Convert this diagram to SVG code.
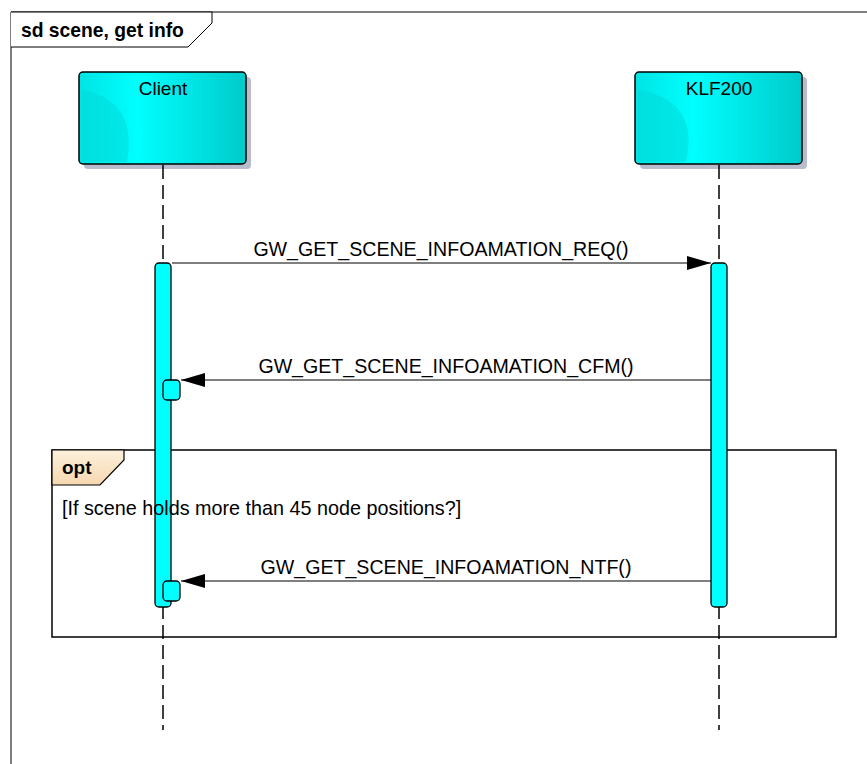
<svg xmlns="http://www.w3.org/2000/svg" width="867" height="764" viewBox="0 0 867 764">
<style>
text{font-family:"Liberation Sans",Arial,sans-serif;fill:#000}
.lbl{font-size:19px;text-anchor:middle}
.mlbl{font-size:19.6px;text-anchor:middle}
.life{stroke:#000;stroke-width:1.5;stroke-dasharray:14 6;fill:none}
.act{fill:#00ffff;stroke:#000;stroke-width:1.3}
.msg{stroke:#000;stroke-width:1.2;fill:none}
.shadow{fill:#b8bccc}
</style>
<defs>
<linearGradient id="g" x1="0" y1="0" x2="1" y2="0">
<stop offset="0" stop-color="#00e4e4"/>
<stop offset="0.35" stop-color="#00ffff"/>
<stop offset="1" stop-color="#00caca"/>
</linearGradient>
<linearGradient id="og" x1="0" y1="0" x2="0" y2="1">
<stop offset="0" stop-color="#fdf0dc"/>
<stop offset="1" stop-color="#f5d8b0"/>
</linearGradient>
<marker id="ahb" markerWidth="24" markerHeight="14" refX="24" refY="7" orient="auto" markerUnits="userSpaceOnUse" viewBox="0 0 24 14">
<path d="M0,0 L24,7 L0,14 Z" fill="#000"/>
</marker>
</defs>
<rect width="867" height="764" fill="#fff"/>
<g id="frame">
<path d="M11,764 L11,12 L867,12" fill="none" stroke="#000" stroke-width="1"/>
<path d="M11,12 L212,12 L212,23 L188,47 L11,47" fill="#fff" stroke="#000" stroke-width="1"/>
<text x="21" y="37" style="font-size:19.3px;font-weight:bold">sd scene, get info</text>
</g>
<g id="client">
<rect class="shadow" x="84" y="77" width="167" height="92" rx="4"/>
<rect x="79" y="72" width="167" height="92" rx="4" fill="url(#g)" stroke="#000" stroke-width="1.5"/>
<path d="M82,90 Q138,100 127,162 L82,162 Z" fill="#00d8d8" opacity="0.5"/>
<text class="lbl" x="163" y="95">Client</text>
<line class="life" x1="163" y1="165" x2="163" y2="730"/>
</g>
<g id="klf200">
<rect class="shadow" x="640" y="77" width="167" height="92" rx="4"/>
<rect x="635" y="72" width="167" height="92" rx="4" fill="url(#g)" stroke="#000" stroke-width="1.5"/>
<path d="M638,90 Q700,100 686,162 L638,162 Z" fill="#00d8d8" opacity="0.5"/>
<text class="lbl" x="719" y="95">KLF200</text>
<line class="life" x1="719" y1="165" x2="719" y2="730"/>
</g>
<g id="opt">
<rect x="52" y="450" width="784" height="187" fill="none" stroke="#000" stroke-width="1.5"/>
<path d="M52,450 L124,450 L124,460 L100,485 L52,485 Z" fill="url(#og)" stroke="#000" stroke-width="1.2"/>
<text x="62" y="474" style="font-size:19px;font-weight:bold">opt</text>
</g>
<g id="activations">
<rect class="act" x="155" y="263" width="16" height="344" rx="4"/>
<rect class="act" x="711" y="263" width="16" height="344" rx="4"/>
<rect class="act" x="163" y="380" width="17" height="20" rx="4"/>
<rect class="act" x="163" y="581" width="17" height="20" rx="4"/>
</g>
<g id="opt-guard">
<text x="62" y="515" style="font-size:19.8px">[If scene holds more than 45 node positions?]</text>
</g>
<g id="connectors">
<line class="msg" x1="172" y1="263" x2="711" y2="263" marker-end="url(#ahb)"/>
<text class="mlbl" x="441" y="256">GW_GET_SCENE_INFOAMATION_REQ()</text>
<line class="msg" x1="711" y1="380" x2="181" y2="380" marker-end="url(#ahb)"/>
<text class="mlbl" x="446" y="373">GW_GET_SCENE_INFOAMATION_CFM()</text>
<line class="msg" x1="711" y1="581" x2="181" y2="581" marker-end="url(#ahb)"/>
<text class="mlbl" x="446" y="574">GW_GET_SCENE_INFOAMATION_NTF()</text>
</g>
</svg>
